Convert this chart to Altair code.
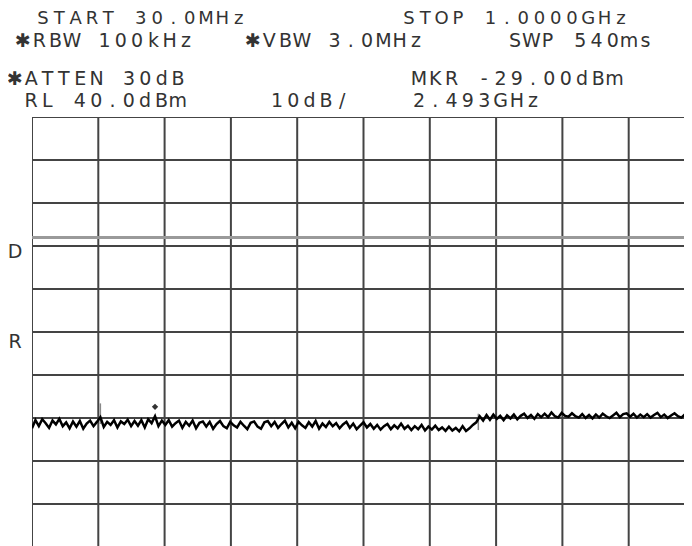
import altair as alt
import pandas as pd

# ---- instrument settings / labels ----
START_MHZ = 30.0
STOP_MHZ = 1000.0
RL_DBM = 40.0
DB_PER_DIV = 10.0
DISPLAY_LINE_DBM = 12.0

grid_freqs = [30, 127, 224, 321, 418, 515, 612, 709, 806, 903, 1000]
grid_levels = [40, 30, 20, 10, 0, -10, -20, -30, -40, -50, -60]

# trace levels (dBm), one every 5 MHz from 30 MHz
levels = [
    -32.4, -30.5, -31.9, -30.3, -31.2, -32.3, -30.6, -31.5, -30.2, -31.9,
    -31.0, -32.4, -30.8, -32.0, -30.7, -32.5, -31.3, -30.6, -31.9, -30.9,
    -29.8, -32.1, -30.9, -31.6, -30.5, -32.2, -30.8, -31.4, -30.4, -31.9,
    -30.7, -31.8, -30.5, -32.2, -30.3, -31.2, -29.6, -31.9, -30.6, -31.6,
    -30.5, -32.0, -31.2, -30.6, -32.3, -30.9, -31.8, -30.6, -32.4, -31.1,
    -30.8, -32.0, -30.9, -32.5, -31.4, -30.7, -31.9, -32.4, -30.9, -31.7,
    -32.2, -30.9, -31.8, -32.6, -31.1, -30.8, -32.0, -32.5, -31.0, -30.7,
    -31.9, -30.9, -32.3, -31.4, -30.6, -32.2, -31.1, -32.4, -30.9, -31.7,
    -32.3, -31.0, -32.0, -30.7, -32.5, -31.3, -32.1, -30.9, -31.9, -31.2,
    -32.4, -31.5, -30.9, -32.3, -31.3, -32.6, -31.8, -31.0, -32.2, -31.4,
    -32.5, -31.6, -32.7, -31.9, -31.4, -32.6, -31.7, -32.4, -31.3, -32.5,
    -31.8, -32.8, -31.9, -32.6, -31.6, -32.9, -32.0, -32.7, -31.8, -32.8,
    -32.2, -33.0, -32.0, -32.9, -32.3, -33.1, -31.9, -33.0, -32.4, -31.6,
    -31.0, -29.6, -30.6, -29.3, -30.4, -29.2, -30.2, -29.5, -30.5, -29.4,
    -30.1, -29.2, -30.3, -29.5, -29.0, -30.0, -29.3, -30.2, -29.1, -29.8,
    -29.0, -29.8, -28.7, -29.6, -29.9, -28.8, -29.5, -29.7, -28.9, -29.6,
    -29.9, -29.1, -30.0, -29.3, -30.1, -29.2, -29.9, -29.0, -29.6, -30.0,
    -29.4, -28.8, -29.8, -29.1, -28.9, -29.7, -29.0, -29.9, -29.2, -29.8,
    -29.1, -29.9, -29.3, -28.8, -29.8, -29.2, -30.0, -29.4, -28.9, -29.6,
    -29.9, -29.2, -29.6, -29.1,
]
STEP_MHZ = 5.0

# thin spurious spikes (freq, top, bottom in dBm)
spike_freq = [130.0, 683.0]
spike_top = [-26.6, -29.0]
spike_bot = [-31.4, -32.8]

marker_freq = [210.0]
marker_level = [-27.4]

header_texts = [
    "START 30.0MHz", "STOP 1.0000GHz",
    "\u2731RBW 100kHz", "\u2731VBW 3.0MHz", "SWP 540ms",
    "\u2731ATTEN 30dB", "MKR -29.00dBm",
    "RL 40.0dBm", "10dB/", "2.493GHz",
    "D", "R",
]
# page-pixel anchor (left, vertical centre, font size) of each text
header_pos = [
    (36, 19, 18), (402, 19, 18),
    (16, 41, 19), (246, 41, 19), (508, 41, 19),
    (8, 79, 19), (412, 79, 19),
    (24, 101, 19), (270, 101, 19), (412, 101, 19),
    (8, 252, 19), (8, 342, 19),
]

# ---- layout ----
PAD_L, PAD_T = 24, 109
W, H = 652, 429
PX_PER_DIV_X = 66.3
PX_PER_DIV_Y = 43.0
x_max = START_MHZ + W / PX_PER_DIV_X * (STOP_MHZ - START_MHZ) / 10
y_min = RL_DBM - H / PX_PER_DIV_Y * DB_PER_DIV

xs = alt.Scale(domain=[START_MHZ, x_max], nice=False, zero=False)
ys = alt.Scale(domain=[y_min, RL_DBM], nice=False, zero=False)

trace_df = pd.DataFrame({
    "f": [START_MHZ + i * STEP_MHZ for i in range(len(levels))],
    "dbm": levels,
})
vgrid = alt.Chart(pd.DataFrame({"f": grid_freqs})).mark_rule(
    color="#444", strokeWidth=2, clip=True
).encode(x=alt.X("f:Q", scale=xs, axis=None))
hgrid = alt.Chart(pd.DataFrame({"l": grid_levels})).mark_rule(
    color="#444", strokeWidth=2, clip=True
).encode(y=alt.Y("l:Q", scale=ys, axis=None))
dline = alt.Chart(pd.DataFrame({"l": [DISPLAY_LINE_DBM]})).mark_rule(
    color="#9a9a9a", strokeWidth=3, clip=True
).encode(y=alt.Y("l:Q", scale=ys, axis=None))
spikes = alt.Chart(pd.DataFrame({"f": spike_freq, "t": spike_top, "b": spike_bot})).mark_rule(
    color="#888", strokeWidth=1.5, clip=True
).encode(
    x=alt.X("f:Q", scale=xs, axis=None),
    y=alt.Y("t:Q", scale=ys, axis=None),
    y2="b:Q",
)
trace = alt.Chart(trace_df).mark_line(
    color="black", strokeWidth=2.5, clip=True
).encode(
    x=alt.X("f:Q", scale=xs, axis=None),
    y=alt.Y("dbm:Q", scale=ys, axis=None),
)
marker = alt.Chart(pd.DataFrame({"f": marker_freq, "dbm": marker_level})).mark_point(
    shape="diamond", filled=True, color="#333", size=40, opacity=1
).encode(
    x=alt.X("f:Q", scale=xs, axis=None),
    y=alt.Y("dbm:Q", scale=ys, axis=None),
)

PITCH = 16.3
rows = []
for s, (lx, cy, fs) in zip(header_texts, header_pos):
    for i, ch in enumerate(s):
        if ch == " ":
            continue
        rows.append({"ch": ch, "px": lx + i * PITCH + 7 - (PAD_L + 8),
                     "py": cy - (PAD_T + 8), "fs": fs})
text_df = pd.DataFrame(rows)
texts = alt.Chart(text_df).mark_text(
    font="DejaVu Sans", color="#333", align="center", baseline="middle"
).encode(
    x=alt.X("px:Q", scale=None, axis=None),
    y=alt.Y("py:Q", scale=None, axis=None),
    size=alt.Size("fs:Q", scale=None, legend=None),
    text="ch:N",
)

chart = alt.layer(vgrid, hgrid, dline, spikes, trace, marker, texts).resolve_scale(
    x="independent", y="independent"
).properties(
    width=W, height=H,
    autosize=alt.AutoSizeParams(type="none"),
    padding={"left": PAD_L, "top": PAD_T, "right": 0, "bottom": 0},
    background="white",
).configure_view(stroke=None)

chart.save("out.html", embed_options={"renderer": "svg", "actions": False})
